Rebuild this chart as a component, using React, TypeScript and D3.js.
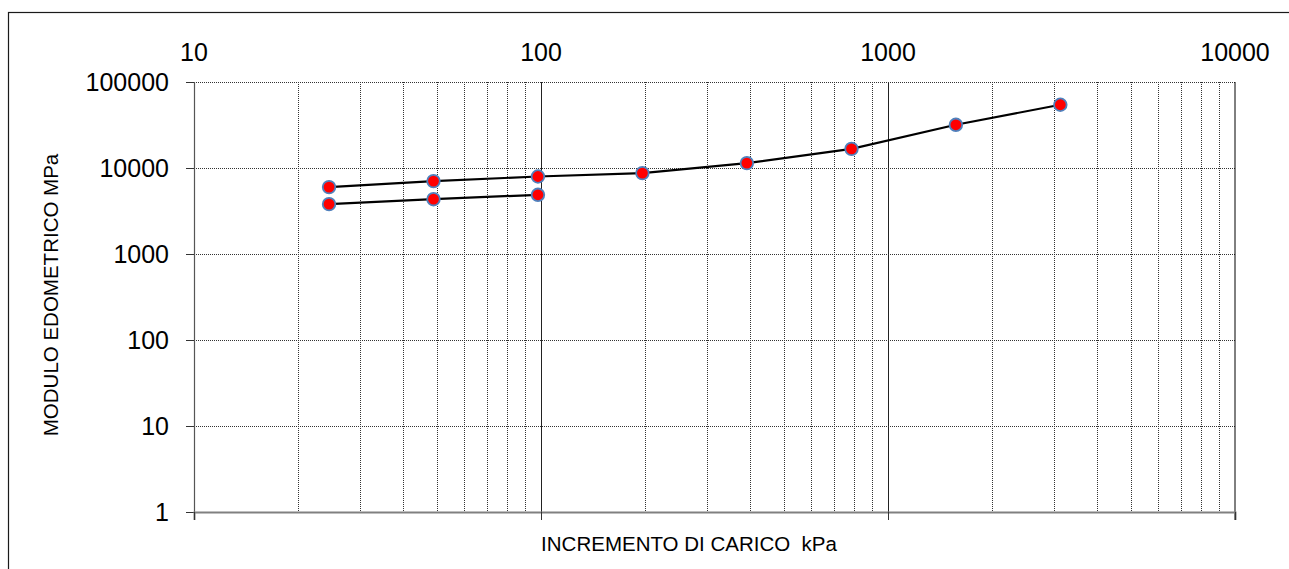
import React, { useEffect, useRef } from 'react';
import * as d3 from 'd3';

// carichi (kg/cm2 convertiti in kPa) e moduli
const loadsKPa = [24.5, 49, 98, 196, 392, 785, 1569, 3138];
const moduloCarico = [6000, 7040, 7960, 8720, 11400, 16700, 31800, 54400];
const loadsPrimo = [24.5, 49, 98];
const moduloPrimo = [3800, 4340, 4880];

const xTickValues = [10, 100, 1000, 10000];
const yTickValues = [1, 10, 100, 1000, 10000, 100000];

const W = 1289;
const H = 569;
const FONT = 'Arial, "Liberation Sans", sans-serif';

interface Pt {
  x: number;
  y: number;
}

const App: React.FC = () => {
  const ref = useRef<SVGSVGElement>(null);

  useEffect(() => {
    if (!ref.current) return;
    const svg = d3.select(ref.current);
    svg.selectAll('*').remove();

    const x = d3.scaleLog().domain([10, 10000]).range([194, 1235]);
    const y = d3.scaleLog().domain([1, 100000]).range([512, 82]);

    svg.append('rect').attr('width', W).attr('height', H).attr('fill', '#fff');

    // cornice esterna
    svg
      .append('rect')
      .attr('x', 8.5)
      .attr('y', 12.5)
      .attr('width', W + 20)
      .attr('height', H + 20)
      .attr('fill', 'none')
      .attr('stroke', '#1a1a1a')
      .attr('stroke-width', 1.2);

    // griglia verticale (decadi + suddivisioni)
    const minor: number[] = [];
    [10, 100, 1000].forEach((d) => {
      for (let k = 2; k <= 9; k++) minor.push(d * k);
    });
    svg
      .append('g')
      .selectAll('line')
      .data(minor)
      .enter()
      .append('line')
      .attr('x1', (d) => Math.round(x(d)) + 0.5)
      .attr('x2', (d) => Math.round(x(d)) + 0.5)
      .attr('y1', y(100000))
      .attr('y2', y(1))
      .attr('stroke', '#333')
      .attr('stroke-width', 1)
      .attr('stroke-dasharray', '1,1');

    svg
      .append('g')
      .selectAll('line')
      .data([100, 1000])
      .enter()
      .append('line')
      .attr('x1', (d) => Math.round(x(d)) + 0.5)
      .attr('x2', (d) => Math.round(x(d)) + 0.5)
      .attr('y1', y(100000))
      .attr('y2', y(1))
      .attr('stroke', '#222')
      .attr('stroke-width', 1);

    // griglia orizzontale
    svg
      .append('g')
      .selectAll('line')
      .data(yTickValues.slice(1))
      .enter()
      .append('line')
      .attr('x1', x(10))
      .attr('x2', x(10000))
      .attr('y1', (d) => Math.round(y(d)) + 0.5)
      .attr('y2', (d) => Math.round(y(d)) + 0.5)
      .attr('stroke', '#333')
      .attr('stroke-width', 1)
      .attr('stroke-dasharray', '1,1');

    // bordo destro
    svg
      .append('line')
      .attr('x1', x(10000))
      .attr('x2', x(10000))
      .attr('y1', y(100000))
      .attr('y2', y(1) + 8)
      .attr('stroke', '#000')
      .attr('stroke-width', 1);

    // assi
    const yAxis = svg
      .append('g')
      .attr('transform', `translate(${x(10)},0)`)
      .call(d3.axisLeft(y).tickValues(yTickValues).tickSize(8).tickPadding(17).tickFormat(d3.format('d')));
    yAxis.select('.domain').attr('stroke', '#555').attr('stroke-width', 1.2);
    yAxis.selectAll('.tick line').attr('stroke', '#333');
    yAxis.selectAll('text').attr('font-family', FONT).attr('font-size', 25).attr('fill', '#000');

    const xAxis = svg
      .append('g')
      .attr('transform', `translate(0,${y(1)})`)
      .call(d3.axisBottom(x).tickValues(xTickValues).tickSize(8).tickFormat(() => ''));
    xAxis.select('.domain').attr('stroke', '#808080').attr('stroke-width', 2);
    xAxis.selectAll('.tick line').attr('stroke', '#333');

    // etichette asse x in alto
    svg
      .append('g')
      .selectAll('text')
      .data(xTickValues)
      .enter()
      .append('text')
      .attr('x', (d) => x(d))
      .attr('y', 61)
      .attr('text-anchor', 'middle')
      .attr('font-family', FONT)
      .attr('font-size', 25)
      .text((d) => String(d));

    // serie
    const line = d3
      .line<Pt>()
      .x((d) => x(d.x))
      .y((d) => y(d.y));
    const serie1: Pt[] = loadsKPa.map((l, i) => ({ x: l, y: moduloCarico[i] }));
    const serie2: Pt[] = loadsPrimo.map((l, i) => ({ x: l, y: moduloPrimo[i] }));

    [serie1, serie2].forEach((s) => {
      svg
        .append('path')
        .datum(s)
        .attr('d', line)
        .attr('fill', 'none')
        .attr('stroke', '#000')
        .attr('stroke-width', 2.2);
    });
    [serie1, serie2].forEach((s) => {
      svg
        .append('g')
        .selectAll('circle')
        .data(s)
        .enter()
        .append('circle')
        .attr('cx', (d) => x(d.x))
        .attr('cy', (d) => y(d.y))
        .attr('r', 6.3)
        .attr('fill', '#ff0000')
        .attr('stroke', '#4f81bd')
        .attr('stroke-width', 1.8);
    });

    // titoli assi
    svg
      .append('text')
      .attr('x', 689)
      .attr('y', 551)
      .attr('text-anchor', 'middle')
      .attr('font-family', FONT)
      .attr('font-size', 20.5)
      .attr('xml:space', 'preserve')
      .style('white-space', 'pre')
      .text('INCREMENTO DI CARICO  kPa');

    svg
      .append('text')
      .attr('transform', 'translate(58,295) rotate(-90)')
      .attr('text-anchor', 'middle')
      .attr('font-family', FONT)
      .attr('font-size', 20.5)
      .text('MODULO EDOMETRICO MPa');
  }, []);

  return (
    <svg
      ref={ref}
      width={W}
      height={H}
      style={{ position: 'absolute', left: 0, top: 0, display: 'block' }}
    />
  );
};

export default App;
